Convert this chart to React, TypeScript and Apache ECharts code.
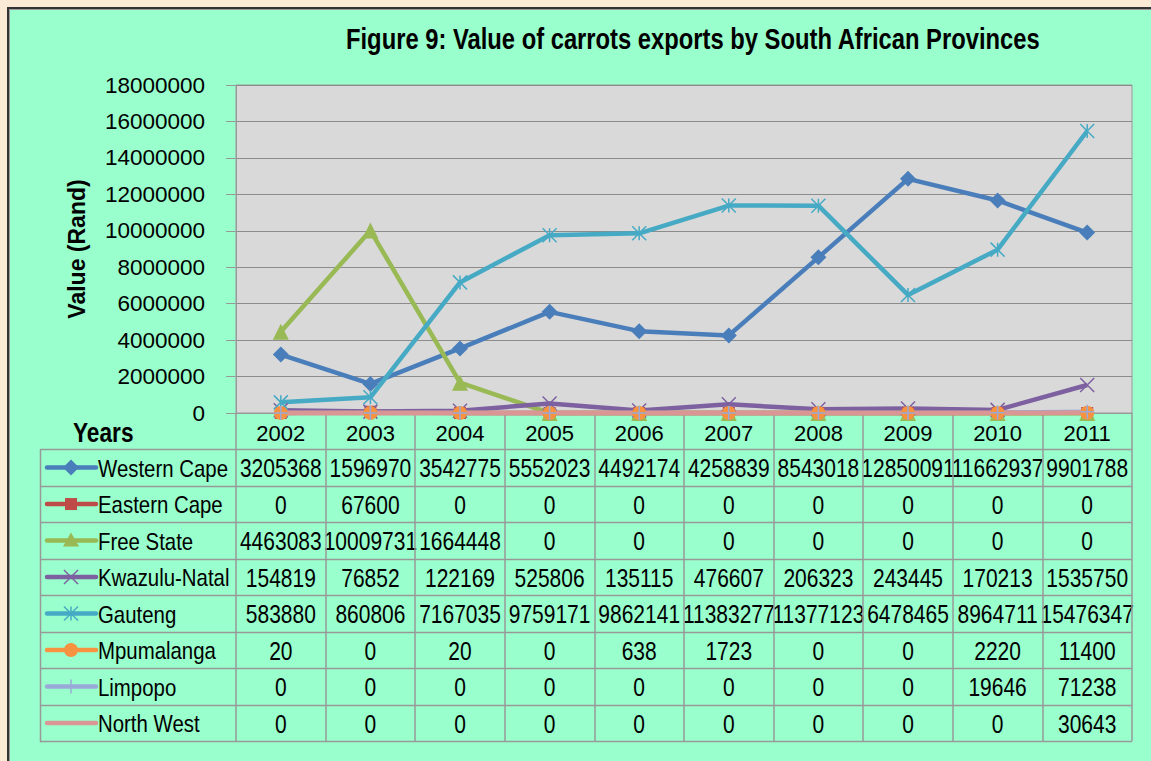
import React, { useEffect, useRef } from "react";
import * as echarts from "echarts";

const years = ["2002", "2003", "2004", "2005", "2006", "2007", "2008", "2009", "2010", "2011"];
const westernCape = [3205368, 1596970, 3542775, 5552023, 4492174, 4258839, 8543018, 12850091, 11662937, 9901788];
const easternCape = [0, 67600, 0, 0, 0, 0, 0, 0, 0, 0];
const freeState = [4463083, 10009731, 1664448, 0, 0, 0, 0, 0, 0, 0];
const kwazuluNatal = [154819, 76852, 122169, 525806, 135115, 476607, 206323, 243445, 170213, 1535750];
const gauteng = [583880, 860806, 7167035, 9759171, 9862141, 11383277, 11377123, 6478465, 8964711, 15476347];
const mpumalanga = [20, 0, 20, 0, 638, 1723, 0, 0, 2220, 11400];
const limpopo = [0, 0, 0, 0, 0, 0, 0, 0, 19646, 71238];
const northWest = [0, 0, 0, 0, 0, 0, 0, 0, 0, 30643];

const seriesNames = ["Western Cape", "Eastern Cape", "Free State", "Kwazulu-Natal", "Gauteng", "Mpumalanga", "Limpopo", "North West"];
const seriesValues = [westernCape, easternCape, freeState, kwazuluNatal, gauteng, mpumalanga, limpopo, northWest];
const seriesColors = ["#4A7EBB", "#BE4B48", "#98B954", "#7D60A0", "#46AAC5", "#F69240", "#9AAAD8", "#D99694"];
const markerKinds = ["diamond", "square", "triangle", "x", "star", "circle", "plus", "none"];

const yTicks = { min: 0, max: 18000000, interval: 2000000 };

const FONT = '"Liberation Sans", Arial, sans-serif';
const NARROW = 0.83;

const G = { left: 236, top: 85, right: 1132, bottom: 413 };
const ROW0 = 449.3;
const ROWH = 36.5;
const TABLE_LEFT = 40;

function seriesSymbol(kind: string) {
  switch (kind) {
    case "diamond": return { symbol: "diamond", size: 16, stroke: false };
    case "square": return { symbol: "rect", size: 12, stroke: false };
    case "triangle": return { symbol: "triangle", size: 16, stroke: false };
    case "circle": return { symbol: "circle", size: 14, stroke: false };
    case "x": return { symbol: "path://M0 0L10 10M10 0L0 10", size: 14, stroke: true };
    case "star": return { symbol: "path://M0 0L10 10M10 0L0 10M5 0L5 10", size: 14, stroke: true };
    case "plus": return { symbol: "path://M5 0L5 10M0 5L10 5", size: 14, stroke: true };
    default: return { symbol: "none", size: 0, stroke: false };
  }
}

function legendMarker(kind: string, cx: number, cy: number, color: string): any[] {
  const s = 7;
  switch (kind) {
    case "diamond":
      return [{ type: "polygon", shape: { points: [[cx, cy - 8], [cx + 8, cy], [cx, cy + 8], [cx - 8, cy]] }, style: { fill: color } }];
    case "square":
      return [{ type: "rect", shape: { x: cx - 6, y: cy - 6, width: 12, height: 12 }, style: { fill: color } }];
    case "triangle":
      return [{ type: "polygon", shape: { points: [[cx, cy - 8], [cx + 8, cy + 6], [cx - 8, cy + 6]] }, style: { fill: color } }];
    case "circle":
      return [{ type: "circle", shape: { cx, cy, r: 7 }, style: { fill: color } }];
    case "x":
      return [
        { type: "line", shape: { x1: cx - s, y1: cy - s, x2: cx + s, y2: cy + s }, style: { stroke: color, lineWidth: 1.5 } },
        { type: "line", shape: { x1: cx + s, y1: cy - s, x2: cx - s, y2: cy + s }, style: { stroke: color, lineWidth: 1.5 } },
      ];
    case "star":
      return [
        { type: "line", shape: { x1: cx - s, y1: cy - s, x2: cx + s, y2: cy + s }, style: { stroke: color, lineWidth: 1.5 } },
        { type: "line", shape: { x1: cx + s, y1: cy - s, x2: cx - s, y2: cy + s }, style: { stroke: color, lineWidth: 1.5 } },
        { type: "line", shape: { x1: cx, y1: cy - s, x2: cx, y2: cy + s }, style: { stroke: color, lineWidth: 1.5 } },
      ];
    case "plus":
      return [{ type: "line", shape: { x1: cx, y1: cy - s, x2: cx, y2: cy + s }, style: { stroke: color, lineWidth: 1.5 } }];
    default:
      return [];
  }
}

function narrowText(text: string, x: number, y: number, font: string, align: string = "left", scale: number = NARROW) {
  return {
    type: "text",
    x,
    y,
    scaleX: scale,
    style: { text, x: 0, y: 0, align, verticalAlign: "middle", font, fill: "#000" },
  };
}

export default function App() {
  const ref = useRef<HTMLDivElement>(null);

  useEffect(() => {
    document.body.style.margin = "0";
    document.body.style.background = "#FBEAD4";
    if (!ref.current) return;
    const chart = echarts.init(ref.current, undefined, { renderer: "svg" });

    const colW = (G.right - G.left) / years.length;
    const graphic: any[] = [];

    // frame + green panel
    graphic.push({ type: "rect", z: -10, shape: { x: 8, y: 8, width: 1200, height: 800 }, style: { fill: "#99FFCC", stroke: "#333", lineWidth: 2 } });
    graphic.push({ type: "line", z: -9, shape: { x1: 9.5, y1: 9.5, x2: 1151, y2: 9.5 }, style: { stroke: "#999", lineWidth: 1 } });
    graphic.push({ type: "line", z: -9, shape: { x1: 9.5, y1: 9.5, x2: 9.5, y2: 761 }, style: { stroke: "#999", lineWidth: 1 } });

    // title
    graphic.push(narrowText("Figure 9: Value of carrots exports by South African Provinces", 346, 39, `bold 29px ${FONT}`, "left", 0.82));

    // table horizontal lines
    for (let k = 0; k <= seriesNames.length; k++) {
      const y = Math.round(ROW0 + k * ROWH) + 0.5;
      graphic.push({ type: "line", shape: { x1: TABLE_LEFT, y1: y, x2: G.right, y2: y }, style: { stroke: "#999", lineWidth: 1.5 } });
    }
    graphic.push({ type: "line", shape: { x1: TABLE_LEFT + 0.5, y1: ROW0, x2: TABLE_LEFT + 0.5, y2: ROW0 + seriesNames.length * ROWH + 1 }, style: { stroke: "#999", lineWidth: 1.5 } });

    // "Years"
    graphic.push(narrowText("Years", 73, 432, `bold 27px ${FONT}`, "left", 0.84));

    // legend keys + values
    seriesNames.forEach((name, r) => {
      const cy = ROW0 + ROWH * (r + 0.5);
      const color = seriesColors[r];
      graphic.push({ type: "line", shape: { x1: 47, y1: cy, x2: 96, y2: cy }, style: { stroke: color, lineWidth: 4.5, lineCap: "round" } });
      legendMarker(markerKinds[r], 71, cy, color).forEach((m) => graphic.push(m));
      graphic.push(narrowText(name, 98, cy + 1, `24px ${FONT}`, "left", 0.85));
      seriesValues[r].forEach((v, i) => {
        graphic.push(narrowText(String(v), G.left + colW * (i + 0.5), cy + 1, `25px ${FONT}`, "center", 0.84));
      });
    });

    const series = seriesNames.map((name, r) => {
      const sym = seriesSymbol(markerKinds[r]);
      const color = seriesColors[r];
      return {
        name,
        type: "line",
        data: seriesValues[r],
        symbol: sym.symbol,
        symbolSize: sym.size,
        showAllSymbol: true,
        clip: false,
        lineStyle: { color, width: 4.5 },
        itemStyle: sym.stroke ? { color, borderColor: color, borderWidth: 1.5 } : { color, borderWidth: 0 },
        emphasis: { disabled: true },
      };
    });

    chart.setOption({
      animation: false,
      backgroundColor: "transparent",
      grid: {
        left: G.left,
        top: G.top,
        width: G.right - G.left,
        height: G.bottom - G.top,
        show: true,
        backgroundColor: "#D9D9D9",
        borderColor: "#999",
        borderWidth: 1,
        containLabel: false,
      },
      xAxis: {
        type: "category",
        data: years,
        boundaryGap: true,
        axisLine: { show: true, lineStyle: { color: "#999", width: 1 } },
        axisTick: { show: true, interval: 0, length: 328, lineStyle: { color: "#999", width: 1.5 } },
        axisLabel: { interval: 0, margin: 9, fontFamily: FONT, fontSize: 22, color: "#000" },
        splitLine: { show: false },
      },
      yAxis: {
        type: "value",
        min: yTicks.min,
        max: yTicks.max,
        interval: yTicks.interval,
        name: "Value (Rand)",
        nameLocation: "middle",
        nameRotate: 90,
        nameGap: 148,
        nameTextStyle: { fontFamily: FONT, fontWeight: "bold", fontSize: 23, color: "#000" },
        axisLine: { show: true, lineStyle: { color: "#999" } },
        axisTick: { show: true, length: 10, lineStyle: { color: "#999" } },
        axisLabel: { margin: 31, fontFamily: FONT, fontSize: 22.5, color: "#000", formatter: (v: number) => String(v) },
        splitLine: { show: true, lineStyle: { color: "#8C8C8C", width: 1.2 } },
      },
      graphic,
      series,
    });

    return () => chart.dispose();
  }, []);

  return <div ref={ref} style={{ width: 1151, height: 761 }} />;
}
